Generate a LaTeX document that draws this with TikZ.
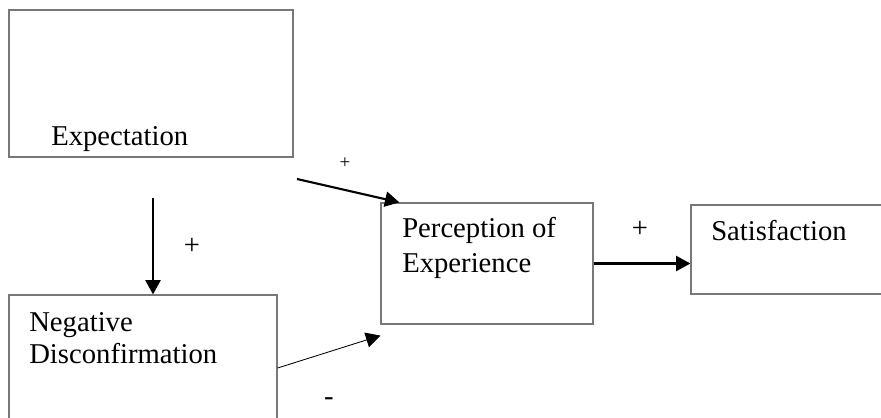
\documentclass[tikz,border=0pt]{standalone}
\usepackage{fontspec}
\setmainfont{Liberation Serif}
\definecolor{boxgray}{RGB}{120, 120, 120}
\usetikzlibrary{arrows.meta, positioning, calc}

\tikzset{
  modelbox/.style={draw=boxgray, line width=0.85pt, inner sep=0pt},
  boxtext/.style={font=\fontsize{20.4}{22.5}\selectfont, align=left, inner sep=0pt, anchor=base west},
  sign/.style={font=\fontsize{20.4}{22.5}\selectfont, inner sep=0pt, anchor=base},
  link/.style={-{Triangle[length=0.36cm, width=0.38cm]}, line width=1.5pt}
}

\begin{document}
\begin{tikzpicture}
  \useasboundingbox (0, 0) rectangle (22.025, -10.45);

  % Boxes
  \node[modelbox, minimum width=7.1cm, minimum height=3.675cm] (expect) at (3.775, -2.0875) {};
  \node[modelbox, minimum width=6.7cm, minimum height=3.65cm] (negdisc) at (3.575, -9.2) {};
  \node[modelbox, minimum width=5.3cm, minimum height=3.025cm] (percept) at (12.175, -6.5875) {};
  \node[modelbox, minimum width=5.725cm, minimum height=2.225cm] (satisf) at (20.1375, -6.2375) {};

  % Box texts (base = last line)
  \node[boxtext] (expecttxt) at (1.275, -3.625) {Expectation};
  \node[boxtext] (negdisctxt) at (0.725, -9.075) {Negative\\Disconfirmation};
  \node[boxtext] (percepttxt) at (10.05, -6.8) {Perception of\\[2.3pt]Experience};
  \node[boxtext] (satisftxt) at (17.775, -6.0) {Satisfaction};

  % Links
  \coordinate (expfoot) at (3.825, -4.95);
  \draw[link] (expfoot) -- (expfoot |- negdisc.north);
  \coordinate (expside) at (7.425, -4.475);
  \draw[link] (expside) -- ([xshift=0.475cm]percept.north west);
  \draw[link, line width=0.6pt] (negdisc.east) -- ([yshift=-0.275cm]percept.south west);
  \draw[link] (percept.east) -- (satisf.west |- percept.east);

  % Signs
  \node[sign] (plusdown) at (4.8, -6.35) {+};
  \node[sign, font=\fontsize{13.5}{16}\selectfont] (plusup) at (8.625, -4.2) {+};
  \node[sign] (minuslow) at (8.225, -10.14) {-};
  \node[sign] (plusright) at (16.0, -5.925) {+};
\end{tikzpicture}
\end{document}
